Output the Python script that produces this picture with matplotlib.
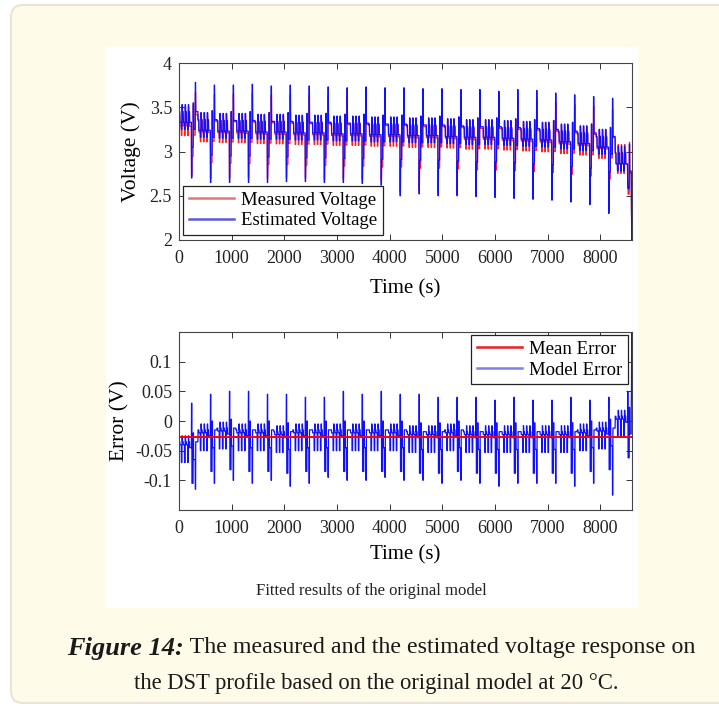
import matplotlib
matplotlib.use("Agg")
import matplotlib.pyplot as plt
import numpy as np
from matplotlib.patches import FancyBboxPatch, Rectangle

plt.rcParams["font.family"] = ["Liberation Serif", "DejaVu Serif"]

# DST cycle: step durations (s) and level offsets (V)
# None marks the dip step (-100 %) and the peak step (+50 %)
step_dur = [16, 28, 12, 8, 16, 24, 12, 8, 16, 24, 12, 8, 16, 36, 8, 24, 8, 32, 8, 44]
est_step = [0, -0.12, -0.2, 0.08, 0, -0.12, -0.2, 0.08, 0, -0.12, -0.2, 0.08,
            0, -0.12, None, -0.4, 0.1, -0.2, None, 0]
err_step = [0, -0.005, -0.035, 0.01, 0, -0.005, -0.035, 0.01, 0, -0.005, -0.035, 0.01,
            0, -0.01, None, -0.07, 0.015, -0.03, None, 0]

# per-cycle values (24 cycles of 360 s)
est_rest = [3.45, 3.36, 3.35, 3.35, 3.34, 3.34, 3.33, 3.33, 3.32, 3.32, 3.31, 3.31,
            3.30, 3.30, 3.29, 3.28, 3.28, 3.27, 3.26, 3.25, 3.23, 3.21, 3.17, 2.98]
est_peak = [3.78, 3.75, 3.75, 3.76, 3.74, 3.75, 3.74, 3.73, 3.72, 3.73, 3.72, 3.72,
            3.71, 3.71, 3.70, 3.70, 3.68, 3.70, 3.69, 3.66, 3.64, 3.62, 3.60, 3.28]
est_dip = [2.70, 2.65, 2.65, 2.65, 2.65, 2.66, 2.66, 2.65, 2.65, 2.64, 2.62, 2.50,
           2.52, 2.50, 2.50, 2.49, 2.48, 2.47, 2.46, 2.45, 2.43, 2.40, 2.30, 2.60]
err_rest = [-0.035, -0.015, -0.012, -0.015, -0.015, -0.018, -0.015, -0.015, -0.015, -0.015,
            -0.015, -0.015, -0.018, -0.018, -0.015, -0.018, -0.018, -0.018, -0.018, -0.018,
            -0.018, -0.015, -0.012, 0.008]
err_up = [0.03, 0.045, 0.05, 0.05, 0.045, 0.045, 0.04, 0.04, 0.05, 0.045, 0.05, 0.045,
          0.045, 0.04, 0.04, 0.04, 0.035, 0.04, 0.035, 0.035, 0.04, 0.035, 0.04, 0.05]
err_down = [-0.115, -0.105, -0.1, -0.105, -0.1, -0.11, -0.105, -0.095, -0.1, -0.1,
            -0.095, -0.1, -0.1, -0.105, -0.1, -0.105, -0.11, -0.105, -0.105, -0.105,
            -0.11, -0.105, -0.125, -0.11]

# end of discharge (cut-off)
tail_t = [8585, 8590, 8595, 8600]
tail_est = [2.75, 2.30, 2.00, 2.25]
tail_err = [0.02, 0.05, 0.15, 0.12]

mean_error = -0.027

# build the 1 s series from the step table
est_v, err_v = [], []
for k in range(len(est_rest)):
    n_special = 0
    for d, es, er in zip(step_dur, est_step, err_step):
        if es is None:
            if n_special == 0:
                ve, vr = est_dip[k], err_up[k]
            else:
                ve, vr = est_peak[k], err_down[k]
            n_special += 1
        else:
            ve, vr = est_rest[k] + es, err_rest[k] + er
        est_v.extend([ve] * d)
        err_v.extend([vr] * d)

n_cut = tail_t[0]
t = np.concatenate([np.arange(n_cut), tail_t])
est_v = np.concatenate([est_v[:n_cut], tail_est])
err_v = np.concatenate([err_v[:n_cut], tail_err])
meas_v = est_v + err_v

W, H = 719, 706
fig = plt.figure(figsize=(W / 100, H / 100), dpi=100)
fig.patch.set_facecolor("white")

# page card and picture background
card = FancyBboxPatch((0.11, 0.03), 7.3, 6.98, boxstyle="round,pad=0,rounding_size=0.12",
                      transform=fig.dpi_scale_trans, facecolor="#fefbe9",
                      edgecolor="#e8e5d8", linewidth=1.5, zorder=-20)
fig.add_artist(card)
pic = Rectangle((1.06, 0.98), 5.32, 5.61, transform=fig.dpi_scale_trans,
                facecolor="white", edgecolor="none", zorder=-10)
fig.add_artist(pic)

ax1 = fig.add_axes([179 / W, 1 - 240 / H, 453 / W, 177 / H])
ax2 = fig.add_axes([179 / W, 1 - 510 / H, 453 / W, 178 / H])

ax1.plot(t, meas_v, color="#ff2020", lw=0.9, label="Measured Voltage")
ax1.plot(t, est_v, color="#1010ff", lw=0.9, label="Estimated Voltage")
ax1.set_ylim(2, 4)
ax1.set_yticks([2, 2.5, 3, 3.5, 4])
ax1.set_yticklabels(["2", "2.5", "3", "3.5", "4"])
ax1.set_ylabel("Voltage (V)", fontsize=15.5, labelpad=6)
ax1.set_xlabel("Time (s)", fontsize=15, labelpad=9)

ax2.plot([0, 8600], [mean_error, mean_error], color="#ff0000", lw=1.4, label="Mean Error", zorder=3)
ax2.plot(t, err_v, color="#1010ff", lw=0.9, label="Model Error", zorder=2)
ax2.set_ylim(-0.15, 0.15)
ax2.set_yticks([-0.1, -0.05, 0, 0.05, 0.1])
ax2.set_yticklabels(["-0.1", "-0.05", "0", "0.05", "0.1"])
ax2.set_ylabel("Error (V)", fontsize=15.5, labelpad=4)
ax2.set_xlabel("Time (s)", fontsize=15, labelpad=6)

for ax in (ax1, ax2):
    ax.set_xlim(0, 8600)
    ax.set_xticks(range(0, 8001, 1000))
    ax.tick_params(direction="in", top=True, right=True, length=4, width=0.7,
                   labelsize=13, colors="#333333", labelcolor="#222222")
    ax.tick_params(axis="x", pad=7)
    ax.tick_params(axis="y", pad=5)
    for s in ax.spines.values():
        s.set_color("#444444")
        s.set_linewidth(0.8)

leg_kw = dict(fontsize=13.5, handlelength=2.4, borderaxespad=0, fancybox=False, framealpha=1,
              edgecolor="#222222", borderpad=0.3, labelspacing=0.2, handletextpad=0.4)
leg1 = ax1.legend(loc="lower left", bbox_to_anchor=(0.009, 0.028), **leg_kw)
leg2 = ax2.legend(loc="upper right", bbox_to_anchor=(0.991, 0.983), **leg_kw)
for leg, cols in ((leg1, ["#e07878", "#5a5ad8"]), (leg2, ["#e82020", "#8080e8"])):
    leg.get_frame().set_linewidth(0.9)
    for ln, c in zip(leg.get_lines(), cols):
        ln.set_linewidth(1.8)
        ln.set_color(c)

fig.text(371 / W, 1 - 591 / H, "Fitted results of the original model", fontsize=12,
         ha="center", va="center", color="#222222")

# caption, first part bold italic
fig.canvas.draw()
r = fig.canvas.get_renderer()
cap_kw = dict(va="center", color="#1a1a1a")
p1 = fig.text(0, 1 - 648 / H, "Figure 14:", weight="bold", style="italic", fontsize=19, **cap_kw)
p2 = fig.text(0, 1 - 648 / H, " The measured and the estimated voltage response on",
              fontsize=17.3, **cap_kw)
w1 = p1.get_window_extent(r).width
w2 = p2.get_window_extent(r).width
x0 = 381 - (w1 + w2) / 2
p1.set_x(x0 / W)
p2.set_x((x0 + w1) / W)
fig.text(376 / W, 1 - 683 / H, "the DST profile based on the original model at 20 °C.",
         ha="center", fontsize=16.3, **cap_kw)

fig.savefig("out.png", dpi=100)
